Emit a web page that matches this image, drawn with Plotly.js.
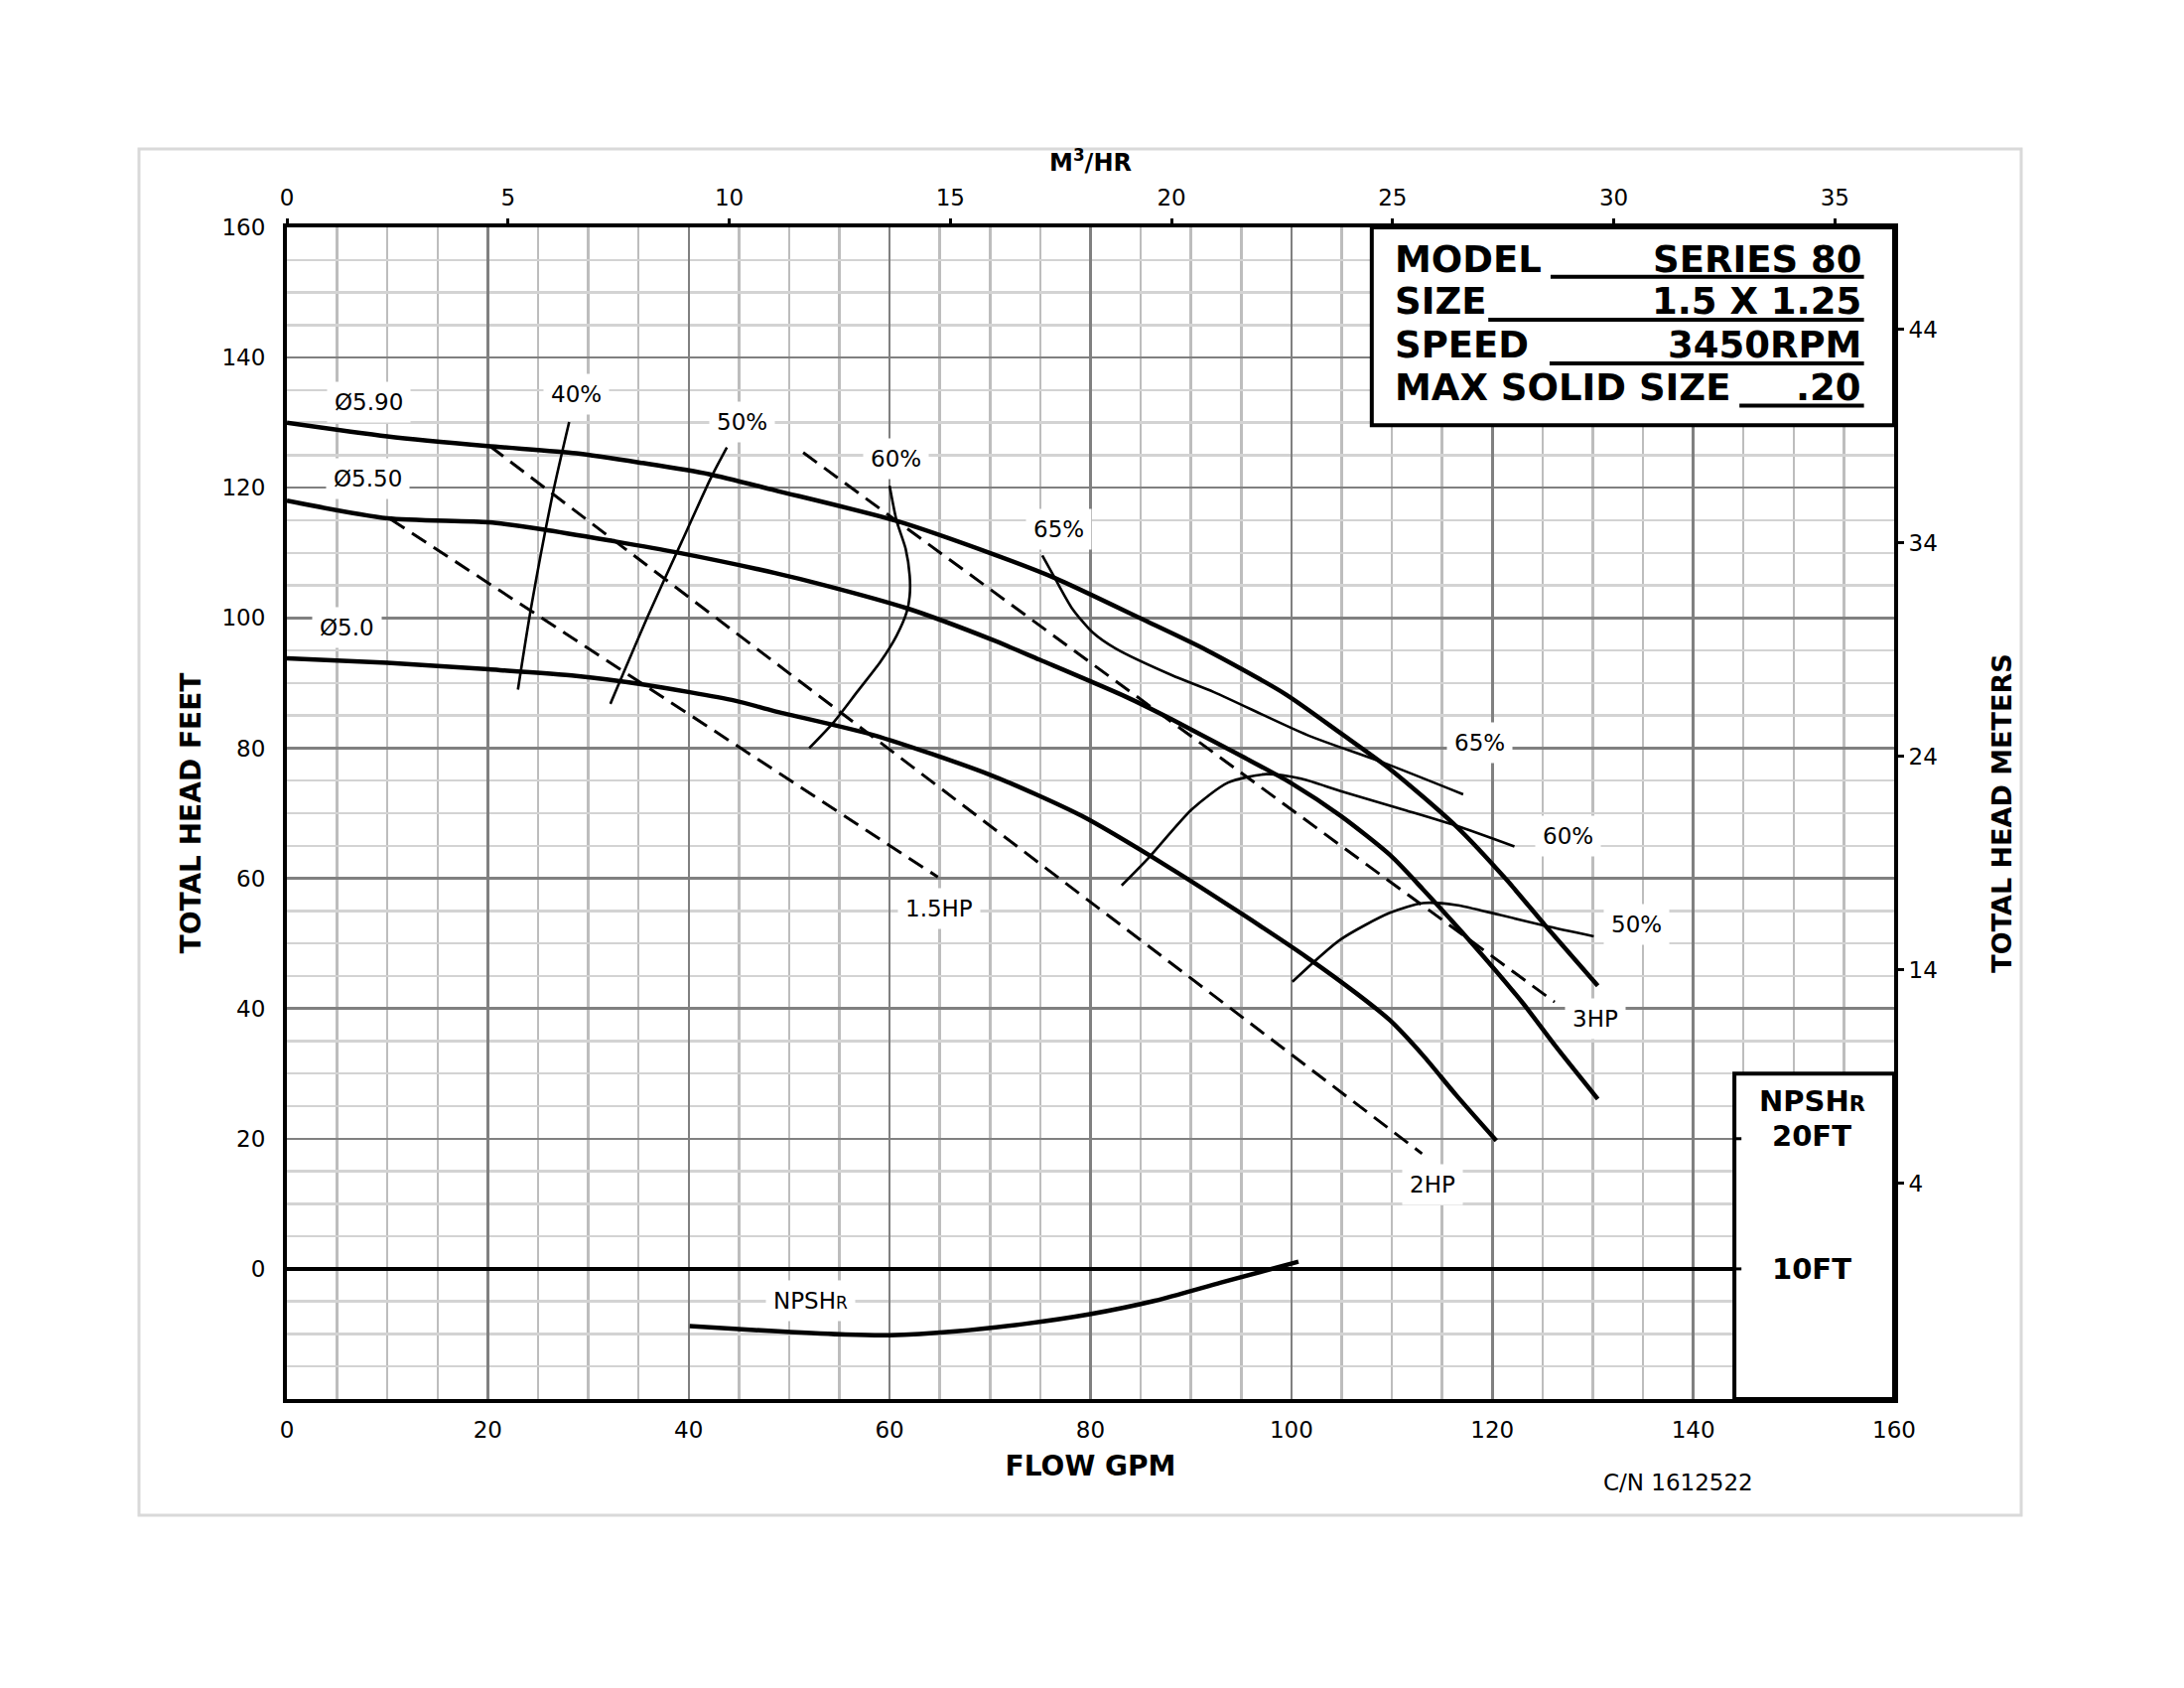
<!DOCTYPE html>
<html>
<head>
<meta charset="utf-8">
<script src="https://cdn.plot.ly/plotly-3.0.1.min.js"></script>
<style>html,body{margin:0;padding:0;background:#fff;}#chart{width:2200px;height:1700px;}</style>
</head>
<body>
<div id="chart"></div>
<script>
// ---------- DATA ----------
// Impeller head curves: flow (GPM) and total head (ft)
const gpm590 = [0, 10, 20, 28.8, 35.4, 42, 48.6, 60.7, 70.3, 76.5, 85.3, 91.5, 99.4, 104.9, 109.8, 116.4, 121.4, 125.3, 130.5];
const ft590  = [130, 127.9, 126.4, 125.3, 123.8, 122.1, 119.6, 114.9, 109.8, 106.1, 99.7, 95.1, 88.3, 82.3, 76.8, 68, 59.8, 52.7, 43.5];

const gpm550 = [0, 10, 20.1, 25.5, 32.1, 38.7, 48.6, 53.6, 61.7, 70.3, 74.9, 83.5, 88.1, 95, 100, 104.9, 109.8, 113.1, 118.1, 123, 126.3, 130.5];
const ft550  = [118, 115.3, 114.7, 113.6, 111.9, 110.1, 106.9, 105.0, 101.5, 96.6, 93.6, 87.9, 84.4, 78.8, 74.6, 69.6, 63.6, 58.3, 49.8, 40.9, 34.2, 26.1];

const gpm500 = [0, 10, 20.1, 28.8, 35.4, 44.6, 48.5, 58.4, 70, 79.1, 87.9, 95, 101.6, 106.5, 109.8, 113.1, 116.4, 120.4];
const ft500  = [93.8, 93.1, 92.1, 91.1, 89.8, 87.3, 85.7, 82.0, 75.9, 69.6, 61.6, 54.6, 47.8, 42.3, 38.2, 32.8, 26.7, 19.7];

// Horsepower lines (dashed)
const gpmHp15 = [10.3, 64.8];
const ftHp15  = [115.2, 60.2];
const gpmHp2  = [20.2, 113];
const ftHp2   = [126.4, 17.7];
const gpmHp3  = [51.4, 126.2];
const ftHp3   = [125.4, 41];

// Efficiency iso-lines (thin)
const gpmEff40 = [23, 24.3, 26.5, 28.1];
const ftEff40  = [89, 101.5, 119.3, 130.1];
const gpmEff50a = [32.2, 36, 39.3, 42.3, 43.8];
const ftEff50a  = [86.8, 100.5, 111.7, 121.8, 126.2];
const gpmEff60a = [52, 54.5, 56.8, 59.1, 60.7, 61.7, 62, 62, 61.6, 60.7, 60];
const ftEff60a  = [80, 84.1, 88.7, 93.3, 97.3, 100.9, 103.4, 106.5, 110.6, 114.9, 120.3];
const gpmEff65 = [75.2, 76.6, 78.2, 80.2, 82.5, 88.1, 92.3, 101.6, 109.1, 117.1];
const ftEff65  = [109.6, 105.7, 101.4, 97.8, 95.3, 91.2, 88.6, 82, 77.8, 72.9];
const gpmEff60b = [83.1, 85.7, 90.1, 93.7, 97.5, 101, 104.9, 111.5, 116.4, 122.2];
const ftEff60b  = [58.9, 63, 70.6, 74.7, 76, 75.3, 73.4, 70.4, 68.1, 64.9];
const gpmEff50b = [100.1, 104.9, 109.8, 113.1, 116.4, 120.7, 125.3, 130.1];
const ftEff50b  = [44.1, 50.6, 54.7, 56.2, 55.9, 54.4, 52.7, 51.1];

// NPSHr curve (plotted on the head scale, 0 ft = 10 ft NPSHr)
const gpmNpsh = [40.1, 48.9, 55.6, 60, 66.6, 73.2, 79.8, 86.4, 93, 100.7];
const ftNpsh  = [-8.8, -9.6, -10.1, -10.2, -9.6, -8.5, -7, -4.9, -2.1, 1.1];

// Axes
const flowRange = [0, 160];
const headRange = [-20, 160];
const flowTicks = [0, 20, 40, 60, 80, 100, 120, 140, 160];
const headTicks = [0, 20, 40, 60, 80, 100, 120, 140, 160];
const m3hTicks = [0, 5, 10, 15, 20, 25, 30, 35];
const meterTicks = [4, 14, 24, 34, 44];
const GPM_TO_M3H = 0.2271247;
const FT_TO_M = 0.3048;

// Curve labels
const labelText = ['\u00D85.90', '\u00D85.50', '\u00D85.0', '40%', '50%', '60%', '65%', '65%', '60%', '50%', '3HP', '2HP', '1.5HP',
                   'NPSH<span style="font-size:17px">R</span>'];
const labelGpm  = [8.2, 8.1, 6.0, 28.8, 45.3, 60.6, 76.8, 118.7, 127.5, 134.4, 130.3, 114, 64.9, 52.1];
const labelFt   = [133.1, 121.4, 98.5, 134.4, 130.1, 124.5, 113.7, 80.8, 66.5, 52.9, 38.5, 12.9, 55.3, -4.9];

// Info block
const infoKeys   = ['MODEL', 'SIZE', 'SPEED', 'MAX SOLID SIZE'];
const infoValues = ['SERIES 80', '1.5 X 1.25', '3450RPM', '.20'];

// ---------- LAYOUT HELPERS ----------
const L = 289, R = 1908, T = 229, B = 1409;
const px = v => (v - L) / (R - L);
const py = v => (B - v) / (B - T);

const tickFont = {family: 'DejaVu Sans', size: 23, color: '#000'};
const boldFont = {family: 'DejaVu Sans', size: 28, color: '#000', weight: 'bold'};

function curve(x, y, w, dash) {
  return {x: x, y: y, type: 'scatter', mode: 'lines', hoverinfo: 'skip', showlegend: false,
          line: {color: '#000', width: w, dash: dash || 'solid', shape: 'spline', smoothing: 0.7}};
}

const traces = [
  curve(gpm590, ft590, 4.5), curve(gpm550, ft550, 4.5), curve(gpm500, ft500, 4.5),
  curve(gpmHp15, ftHp15, 3, '17px,9px'), curve(gpmHp2, ftHp2, 3, '17px,9px'), curve(gpmHp3, ftHp3, 3, '17px,9px'),
  curve(gpmEff40, ftEff40, 2.6), curve(gpmEff50a, ftEff50a, 2.6), curve(gpmEff60a, ftEff60a, 2.6),
  curve(gpmEff65, ftEff65, 2.6), curve(gpmEff60b, ftEff60b, 2.6), curve(gpmEff50b, ftEff50b, 2.6),
  curve(gpmNpsh, ftNpsh, 4.5),
  // invisible anchor for the secondary (metric) axes
  {x: flowRange.map(v => v * GPM_TO_M3H), y: headRange.map(v => v * FT_TO_M), xaxis: 'x2', yaxis: 'y2',
   type: 'scatter', mode: 'markers', marker: {opacity: 0}, hoverinfo: 'skip', showlegend: false}
];

const annotations = labelText.map((t, i) => ({
  x: labelGpm[i], y: labelFt[i], xref: 'x', yref: 'y', text: t, showarrow: false,
  xanchor: 'center', yanchor: 'middle',
  font: {family: 'DejaVu Sans', size: 23, color: '#000'}, bgcolor: '#fff', borderpad: 7
}));

// info block text
const infoY = [155, 148.6, 141.9, 135.3];
infoKeys.forEach((k, i) => {
  annotations.push({x: 110.1, y: infoY[i], xref: 'x', yref: 'y', text: k, showarrow: false, xanchor: 'left', yanchor: 'middle',
    font: {family: 'DejaVu Sans', size: 37, color: '#000', weight: 'bold'}});
  annotations.push({x: 156.9, y: infoY[i], xref: 'x', yref: 'y', text: infoValues[i], showarrow: false, xanchor: 'right', yanchor: 'middle',
    font: {family: 'DejaVu Sans', size: 37, color: '#000', weight: 'bold'}});
});

// NPSHr scale box text
annotations.push({x: 151.8, y: 25.8, xref: 'x', yref: 'y', showarrow: false, xanchor: 'center', yanchor: 'middle',
  text: 'NPSH<span style="font-size:21px">R</span>', font: {family: 'DejaVu Sans', size: 29, color: '#000', weight: 'bold'}});
annotations.push({x: 151.8, y: 20.4, xref: 'x', yref: 'y', showarrow: false, xanchor: 'center', yanchor: 'middle', text: '20FT',
  font: {family: 'DejaVu Sans', size: 29, color: '#000', weight: 'bold'}});
annotations.push({x: 151.8, y: 0, xref: 'x', yref: 'y', showarrow: false, xanchor: 'center', yanchor: 'middle', text: '10FT',
  font: {family: 'DejaVu Sans', size: 29, color: '#000', weight: 'bold'}});

// catalog number
annotations.push({x: px(1690), y: py(1493), xref: 'paper', yref: 'paper', showarrow: false, xanchor: 'center', yanchor: 'middle',
  text: 'C/N 1612522', font: {family: 'DejaVu Sans', size: 23, color: '#000'}});

const underY = [152.4, 145.8, 139.1, 132.6];
const underX0 = [125.8, 119.6, 125.7, 144.6];
const underX1 = 157.0;

const shapes = [
  // light outer frame
  {type: 'rect', xref: 'paper', yref: 'paper', x0: px(140), x1: px(2036), y0: py(1526), y1: py(150),
   line: {color: '#d9d9d9', width: 3}, fillcolor: 'rgba(0,0,0,0)', layer: 'below'},
  // info block frame
  {type: 'rect', xref: 'x', yref: 'y', x0: 108, x1: 160, y0: 129.6, y1: 160,
   line: {color: '#000', width: 4}, fillcolor: '#fff', layer: 'above'},
  // NPSHr scale box
  {type: 'rect', xref: 'x', yref: 'y', x0: 144.1, x1: 160, y0: -20, y1: 30,
   line: {color: '#000', width: 4}, fillcolor: '#fff', layer: 'above'},
  {type: 'line', xref: 'x', yref: 'y', x0: 144.1, x1: 144.8, y0: 20, y1: 20, line: {color: '#000', width: 3}, layer: 'above'},
  {type: 'line', xref: 'x', yref: 'y', x0: 144.1, x1: 144.8, y0: 0, y1: 0, line: {color: '#000', width: 3}, layer: 'above'}
];
underY.forEach((y, i) => shapes.push({type: 'line', xref: 'x', yref: 'y', x0: underX0[i], x1: underX1, y0: y, y1: y,
  line: {color: '#000', width: 4}, layer: 'above'}));

const layout = {
  width: 2200, height: 1700,
  margin: {l: L, r: 2200 - R, t: T, b: 1700 - B, pad: 0},
  paper_bgcolor: '#fff', plot_bgcolor: '#fff',
  showlegend: false,
  xaxis: {
    range: flowRange, tickvals: flowTicks, ticks: '', tickfont: tickFont, ticklabelstandoff: 7,
    showgrid: true, gridcolor: '#808080', gridwidth: 2.5, zeroline: false,
    minor: {dtick: 5, tick0: 0, showgrid: true, gridcolor: '#bdbdbd', gridwidth: 2.5, ticks: ''},
    showline: true, linecolor: '#000', linewidth: 4, mirror: true, fixedrange: true,
    title: {text: 'FLOW GPM', font: boldFont, standoff: 16}
  },
  yaxis: {
    range: headRange, tickvals: headTicks, ticks: '', tickfont: tickFont, ticklabelstandoff: 13,
    showgrid: true, gridcolor: '#808080', gridwidth: 2.5,
    zeroline: true, zerolinecolor: '#000', zerolinewidth: 4,
    minor: {dtick: 5, tick0: 0, showgrid: true, gridcolor: '#d3d3d3', gridwidth: 2.5, ticks: ''},
    showline: true, linecolor: '#000', linewidth: 4, mirror: true, fixedrange: true,
    title: {text: 'TOTAL HEAD FEET', font: boldFont, standoff: 14}
  },
  xaxis2: {
    overlaying: 'x', side: 'top', anchor: 'y2',
    range: flowRange.map(v => v * GPM_TO_M3H), tickvals: m3hTicks, tickfont: tickFont, ticklabelstandoff: 4,
    ticks: 'outside', ticklen: 8, tickwidth: 3, tickcolor: '#000',
    showgrid: false, zeroline: false, showline: false, fixedrange: true,
    title: {text: 'M<sup>3</sup>/HR', font: {family: 'DejaVu Sans', size: 24, color: '#000', weight: 'bold'}, standoff: 6}
  },
  yaxis2: {
    overlaying: 'y', side: 'right', anchor: 'x2',
    range: headRange.map(v => v * FT_TO_M), tickvals: meterTicks, tickfont: tickFont,
    ticks: 'outside', ticklen: 9, tickwidth: 3, tickcolor: '#000',
    showgrid: false, zeroline: false, showline: false, fixedrange: true,
    title: {text: 'TOTAL HEAD METERS', font: {family: 'DejaVu Sans', size: 27, color: '#000', weight: 'bold'}, standoff: 56}
  },
  annotations: annotations,
  shapes: shapes
};

Plotly.newPlot('chart', traces, layout, {staticPlot: true, displayModeBar: false});
</script>
</body>
</html>
